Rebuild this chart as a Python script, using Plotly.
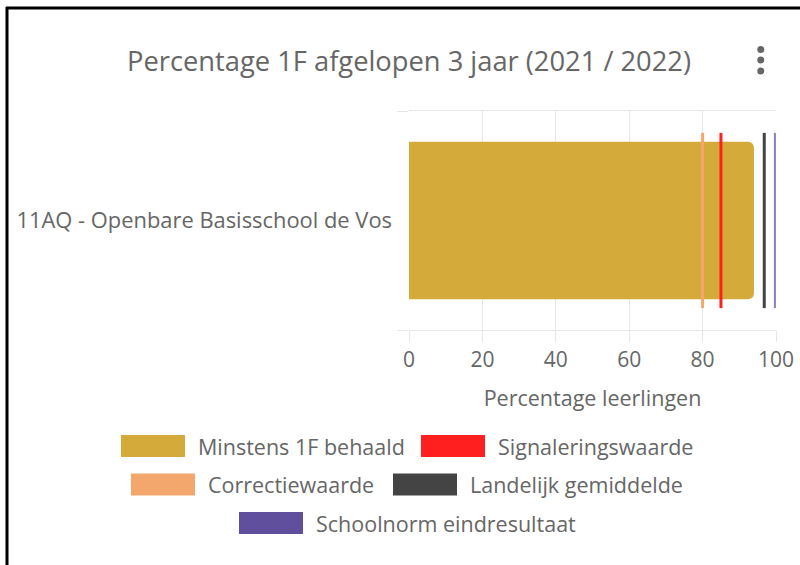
import plotly.graph_objects as go

# ---- data ----
categories = ["11AQ - Openbare Basisschool de Vos"]
bar_name = "Minstens 1F behaald"
bar_values = [94]
line_names = ["Correctiewaarde", "Signaleringswaarde", "Landelijk gemiddelde", "Schoolnorm eindresultaat"]
line_values = [80, 85, 96.8, 99.7]
x_ticks = [0, 20, 40, 60, 80, 100]

# ---- styles ----
bar_color = "#D4AA3A"
line_colors = {"Correctiewaarde": "#F4A76C", "Signaleringswaarde": "#FF1F1F",
               "Landelijk gemiddelde": "#444444", "Schoolnorm eindresultaat": "#5F4F9D"}
line_plot_colors = {"Correctiewaarde": "#F4A76C", "Signaleringswaarde": "#FF1F1F",
                    "Landelijk gemiddelde": "#444444", "Schoolnorm eindresultaat": "#8A7EC0"}
line_widths = {"Correctiewaarde": 3, "Signaleringswaarde": 3, "Landelijk gemiddelde": 3, "Schoolnorm eindresultaat": 2}
FONT = "Open Sans"
TXT = "#666666"
GRID = "#e6e6e6"

W, H = 800, 565
L, R, T, B = 409, 776, 111, 330  # plot area in px


def px(xp):
    return (xp - L) / (R - L)


def py(yp):
    return (B - yp) / (B - T)


fig = go.Figure()
ypos = list(range(len(categories)))
fig.add_trace(go.Bar(x=bar_values, y=ypos, orientation="h", width=0.72,
                     marker=dict(color=bar_color, cornerradius=6, line_width=0),
                     name=bar_name, showlegend=False, hoverinfo="x"))
for name, v in zip(line_names, line_values):
    fig.add_trace(go.Scatter(x=[v, v], y=[-0.4, 0.4], mode="lines",
                             line=dict(color=line_plot_colors[name], width=line_widths[name]),
                             name=name, showlegend=False, hoverinfo="x"))

shapes = []
annotations = []
# frame border of the screenshot (left and top)
shapes.append(dict(type="line", xref="paper", yref="paper", x0=px(7), x1=px(7), y0=py(7), y1=py(565),
                   line=dict(color="black", width=3)))
shapes.append(dict(type="line", xref="paper", yref="paper", x0=px(6), x1=px(800), y0=py(8), y1=py(8),
                   line=dict(color="black", width=3)))
# kebab menu dots
for cy in (49.5, 60, 71):
    shapes.append(dict(type="circle", xref="paper", yref="paper", x0=px(757.3), x1=px(764.3),
                       y0=py(cy + 3.5), y1=py(cy - 3.5), fillcolor="#666666", line_width=0))

# manual legend
legend_items = [bar_name, "Signaleringswaarde", "Correctiewaarde", "Landelijk gemiddelde", "Schoolnorm eindresultaat"]
legend_colors = [bar_color] + [line_colors[n] for n in legend_items[1:]]
legend_pos = [(121, 446), (421, 446), (131, 484.5), (393, 484.5), (239, 523)]
for name, col, (lx, ly) in zip(legend_items, legend_colors, legend_pos):
    shapes.append(dict(type="rect", xref="paper", yref="paper", x0=px(lx), x1=px(lx + 64),
                       y0=py(ly + 11), y1=py(ly - 11), fillcolor=col, line_width=0))
    annotations.append(dict(text=name, xref="paper", yref="paper", x=px(lx + 75), y=py(ly),
                            xanchor="left", yanchor="middle", showarrow=False,
                            font=dict(family=FONT, size=21.5, color=TXT)))

fig.update_layout(
    width=W, height=H,
    margin=dict(l=L, r=W - R, t=T, b=H - B, autoexpand=False),
    paper_bgcolor="white", plot_bgcolor="white",
    title=dict(text="Percentage 1F afgelopen 3 jaar (2021 / 2022)", x=409 / W, xanchor="center",
               y=1 - 61 / H, yanchor="middle", font=dict(family=FONT, size=27.3, color=TXT)),
    xaxis=dict(range=[0, 100], tickvals=x_ticks, showgrid=True, gridcolor=GRID, gridwidth=1,
               zeroline=False, showline=True, linecolor=GRID, mirror=True, automargin=False,
               ticks="outside", ticklen=11, tickcolor=GRID,
               tickfont=dict(family=FONT, size=21, color=TXT),
               title=dict(text="Percentage leerlingen", standoff=18,
                          font=dict(family=FONT, size=21.5, color=TXT))),
    yaxis=dict(range=[-0.5, 0.5], tickvals=ypos, ticktext=categories, showgrid=False,
               zeroline=False, showline=False, ticks="", ticklabelstandoff=16, automargin=False,
               minor=dict(tickvals=[-0.5, 0.5], ticks="outside", ticklen=11, tickcolor=GRID, showgrid=False),
               tickfont=dict(family=FONT, size=21.9, color=TXT)),
    shapes=shapes, annotations=annotations, showlegend=False,
)

fig.write_html("out.html", config={"responsive": False, "displayModeBar": False},
               post_script="document.body.style.margin='0';document.body.style.overflow='hidden';")
